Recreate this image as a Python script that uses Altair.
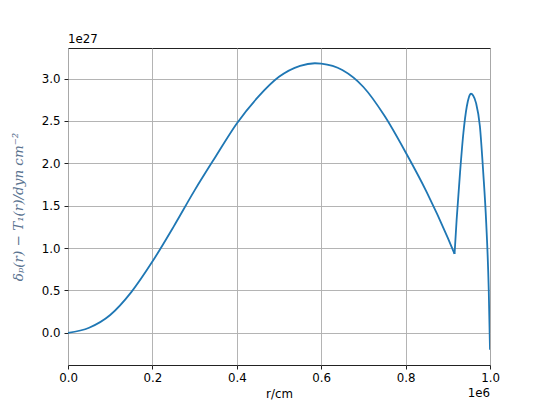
import altair as alt
import pandas as pd

# r in units of 1e6 cm, value in units of 1e27 dyn cm^-2
# main lobe (centre to the kink)
r_main = [0.0, 0.05, 0.10, 0.15, 0.20, 0.25, 0.30, 0.35, 0.40, 0.45, 0.50, 0.55,
          0.585, 0.60, 0.65, 0.70, 0.75, 0.80, 0.85, 0.90, 0.916]
p_main = [0.0, 0.06, 0.21, 0.48, 0.84, 1.25, 1.68, 2.08, 2.47, 2.78, 3.02, 3.15,
          3.18, 3.175, 3.10, 2.90, 2.56, 2.13, 1.66, 1.12, 0.93]
# outer lobe (kink to surface)
r_outer = [0.916, 0.921, 0.929, 0.937, 0.945, 0.950, 0.955, 0.960, 0.967, 0.976,
           0.984, 0.991, 0.997, 1.0]
p_outer = [0.93, 1.34, 1.89, 2.36, 2.67, 2.78, 2.82, 2.80, 2.71, 2.44,
           1.89, 1.30, 0.51, -0.2]

x_ticks = [0.0, 0.2, 0.4, 0.6, 0.8, 1.0]
y_ticks = [0.0, 0.5, 1.0, 1.5, 2.0, 2.5, 3.0]

df = pd.concat([
    pd.DataFrame({"r": r_main, "p": p_main, "seg": "main"}),
    pd.DataFrame({"r": r_outer, "p": p_outer, "seg": "outer"}),
], ignore_index=True)

W, H = 422, 317
FONT = "DejaVu Sans"

line = alt.Chart(df).mark_line(
    color="#1f77b4", strokeWidth=1.8, clip=True, interpolate="monotone"
).encode(
    x=alt.X("r:Q",
            scale=alt.Scale(domain=[0, 1], nice=False, zero=False),
            axis=alt.Axis(values=x_ticks, format=".1f", title="r/cm", labelFlush=False,
                          titleY=32, titleBaseline="alphabetic",
                          titleFont=FONT, titleFontSize=11.8, titleFontWeight="normal",
                          titleColor="black")),
    y=alt.Y("p:Q",
            scale=alt.Scale(domain=[-0.38, 3.36], nice=False, zero=False),
            axis=alt.Axis(values=y_ticks, format=".1f", labelFlush=False,
                          title="δₚ(r) − T₁(r)/dyn cm⁻²",
                          titleX=-50, titleY=H / 2, titleAngle=-90,
                          titleAlign="center", titleBaseline="middle",
                          titleFont="DejaVu Serif", titleFontSize=13.5,
                          titleFontStyle="italic",
                          titleFontWeight="normal", titleColor="#5a7390")),
    detail="seg:N",
)

off_y = alt.Chart(pd.DataFrame({"t": ["1e27"]})).mark_text(
    align="left", baseline="alphabetic", font=FONT, fontSize=11.8, color="black"
).encode(x=alt.value(0), y=alt.value(-5), text="t:N")

off_x = alt.Chart(pd.DataFrame({"t": ["1e6"]})).mark_text(
    align="right", baseline="alphabetic", font=FONT, fontSize=11.8, color="black"
).encode(x=alt.value(W), y=alt.value(349), text="t:N")

chart = alt.layer(line, off_y, off_x).properties(
    width=W, height=H,
    autosize=alt.AutoSizeParams(type="none"),
    padding={"left": 60, "top": 40, "right": 47, "bottom": 36},
    background="white",
).configure_view(
    stroke="#222222", strokeWidth=1
).configure_axis(
    grid=True, gridColor="#b0b0b0", gridWidth=0.95,
    domain=False,
    ticks=True, tickSize=4, tickColor="#222222", tickWidth=1,
    labelFont=FONT, labelFontSize=11.8, labelColor="black", labelPadding=3,
).configure_axisY(labelPadding=4)

chart.save("out.html", embed_options={"renderer": "svg", "actions": False})
